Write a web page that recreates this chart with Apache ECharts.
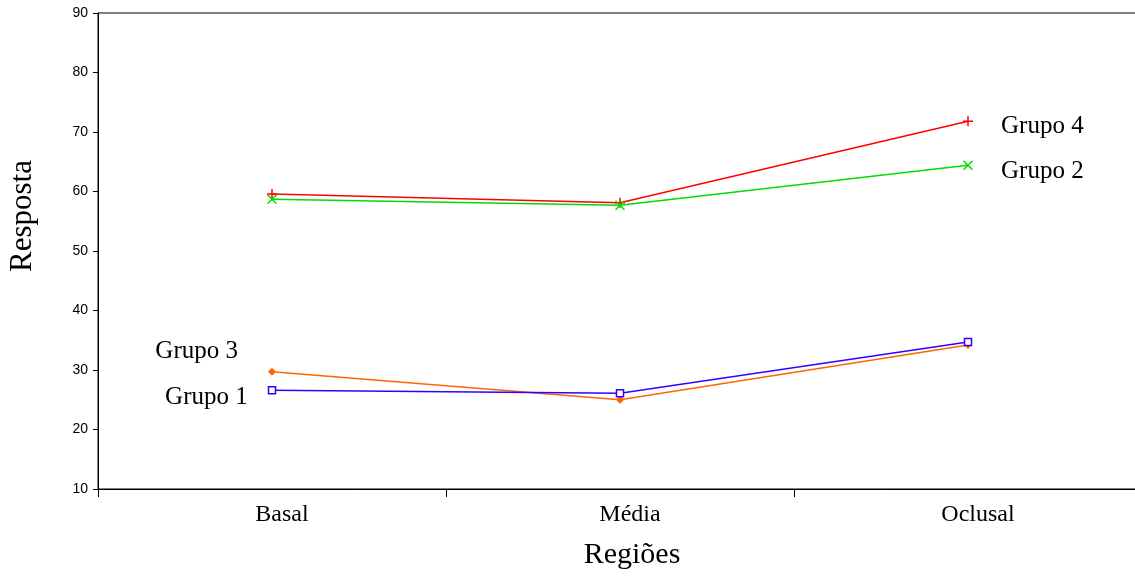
<!DOCTYPE html>
<html>
<head>
<meta charset="utf-8">
<script src="https://cdn.jsdelivr.net/npm/echarts@6/dist/echarts.min.js"></script>
<style>
  html, body { margin: 0; padding: 0; background: #fff; overflow: hidden; }
  /* o gráfico original corta a borda direita; a div é mais larga que a janela */
  #chart { width: 1150px; height: 578px; }
</style>
</head>
<body>
<div id="chart"></div>
<script>
// dados do gráfico
const regioes = ['Basal', 'Média', 'Oclusal'];
const grupo1 = [26.6, 26.1, 34.7];
const grupo2 = [58.7, 57.7, 64.4];
const grupo3 = [29.7, 25.0, 34.2];
const grupo4 = [59.6, 58.1, 71.8];

const serif = 'Liberation Serif';
const plusPath = 'path://M5,0 L5,10 M0,5 L10,5';
const crossPath = 'path://M0,0 L10,10 M10,0 L0,10';

const chart = echarts.init(document.getElementById('chart'));

function labelFirst(values, cfg) {
  // rótulo do grupo ao lado do primeiro ponto
  return values.map((v, i) => i === 0 ? {
    value: v,
    label: Object.assign({
      show: true, position: 'left', color: '#000',
      fontFamily: serif, fontSize: 25, formatter: '{a}'
    }, cfg)
  } : v);
}

const option = {
  animation: false,
  backgroundColor: '#fff',
  grid: {
    left: 98, right: 8, top: 13, bottom: 89,
    outerBoundsMode: 'none',
    show: true, borderColor: '#000', borderWidth: 1
  },
  xAxis: {
    type: 'category',
    data: regioes,
    boundaryGap: true,
    name: 'Regiões',
    nameLocation: 'middle',
    nameGap: 51,
    nameTextStyle: { fontFamily: serif, fontSize: 30, color: '#000', padding: [0, 0, 0, 24] },
    axisLine: { lineStyle: { color: '#000', width: 1 } },
    axisTick: { show: true, length: 8, lineStyle: { color: '#000' } },
    axisLabel: { fontFamily: serif, fontSize: 24, color: '#000', margin: 14, padding: [0, 0, 0, 20] },
    splitLine: { show: false }
  },
  yAxis: {
    type: 'value',
    min: 10, max: 90, interval: 10,
    name: 'Resposta',
    nameLocation: 'middle',
    nameGap: 60,
    nameRotate: 90,
    nameTextStyle: { fontFamily: serif, fontSize: 31, color: '#000', padding: [0, 0, 0, 70] },
    axisLine: { show: true, lineStyle: { color: '#000', width: 1 } },
    axisTick: { show: true, length: 5, lineStyle: { color: '#000' } },
    axisLabel: { fontFamily: 'Liberation Sans', fontSize: 14, color: '#000', margin: 10 },
    splitLine: { show: false }
  },
  series: [
    {
      name: 'Grupo 4', type: 'line', data: grupo4,
      symbol: plusPath, symbolSize: 10,
      lineStyle: { color: '#ff0000', width: 1.5 },
      itemStyle: { color: '#ff0000', borderColor: '#ff0000', borderWidth: 1.5 },
      endLabel: { show: true, formatter: '{a}', distance: 33, color: '#000', fontFamily: serif, fontSize: 25, offset: [0, 5] }
    },
    {
      name: 'Grupo 2', type: 'line', data: grupo2,
      symbol: crossPath, symbolSize: 9,
      lineStyle: { color: '#00dd00', width: 1.5 },
      itemStyle: { color: '#00dd00', borderColor: '#00dd00', borderWidth: 1.5 },
      endLabel: { show: true, formatter: '{a}', distance: 33, color: '#000', fontFamily: serif, fontSize: 25, offset: [0, 6] }
    },
    {
      name: 'Grupo 3', type: 'line',
      data: labelFirst(grupo3, { distance: 30, offset: [0, -20] }),
      symbol: 'diamond', symbolSize: 8,
      lineStyle: { color: '#ff6600', width: 1.5 },
      itemStyle: { color: '#ff6600', borderColor: '#ff6600', borderWidth: 0 }
    },
    {
      name: 'Grupo 1', type: 'line',
      data: labelFirst(grupo1, { distance: 20, offset: [0, 7] }),
      symbol: 'rect', symbolSize: 7,
      lineStyle: { color: '#3300ff', width: 1.5 },
      itemStyle: { color: '#ffffff', borderColor: '#3300ff', borderWidth: 1.5 }
    }
  ]
};

chart.setOption(option);
</script>
</body>
</html>
